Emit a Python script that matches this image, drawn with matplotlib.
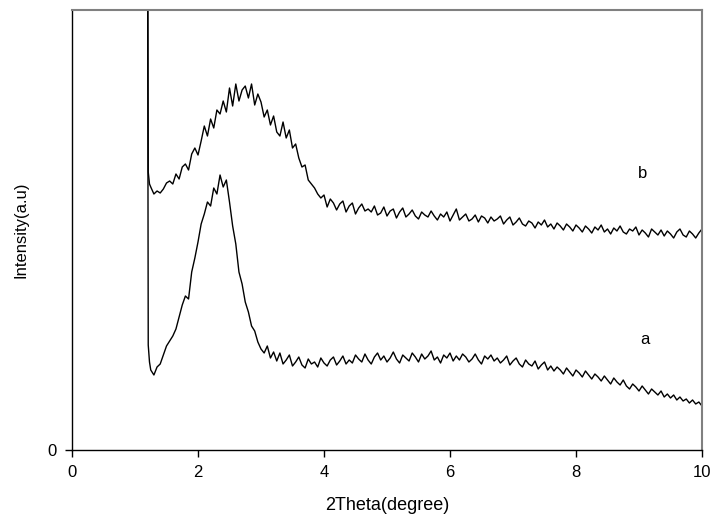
import matplotlib
matplotlib.use("Agg")
import matplotlib.pyplot as plt
import numpy as np

plt.rcParams['font.family'] = ['Liberation Sans', 'DejaVu Sans']

# 2theta grid of the scan (degree), 0.05 step from 1.25 to 10.00
theta_start = 1.25
theta_step = 0.05

# low-angle spike at the start of each scan
b_spike_x = [1.19, 1.21, 1.23]
b_spike_y = [900, 278, 266]
a_spike_x = [1.19, 1.21, 1.23]
a_spike_y = [900, 105, 88]

# curve b (upper)
b_vals = [
    263, 256, 259, 257, 261, 267, 269, 266, 276, 271,
    283, 286, 280, 296, 302, 295, 309, 324, 314, 331,
    322, 340, 336, 349, 338, 362, 344, 366, 349, 360,
    364, 352, 366, 345, 356, 348, 333, 340, 325, 334,
    318, 314, 328, 312, 320, 302, 306, 292, 283, 285,
    270, 266, 262, 256, 252, 255, 243, 251, 247, 240,
    246, 249, 238, 244, 247, 236, 242, 246, 239, 241,
    238, 244, 235, 237, 243, 234, 239, 241, 232, 238,
    242, 233, 236, 240, 234, 231, 238, 235, 233, 239,
    234, 230, 236, 233, 238, 229, 235, 241, 230, 233,
    236, 229, 231, 235, 228, 234, 232, 227, 233, 229,
    231, 234, 226, 230, 233, 225, 228, 232, 226, 224,
    229, 227, 222, 228, 225, 230, 223, 226, 221, 227,
    224, 220, 226, 223, 219, 225, 222, 218, 224, 221,
    217, 223, 220, 225, 218, 221, 216, 222, 219, 224,
    218, 216, 221, 219, 223, 215, 220, 217, 213, 221,
    218, 215, 220, 214, 219, 216, 212, 218, 221, 215,
    213, 219, 216, 212, 217, 221,
]

# curve a (lower)
a_vals = [
    80, 75, 83, 86, 95, 104, 109, 114, 121, 133,
    145, 154, 151, 178, 192, 208, 226, 236, 248, 244,
    262, 256, 275, 263, 270, 248, 224, 206, 178, 166,
    148, 138, 124, 119, 108, 101, 97, 104, 92, 98,
    89, 97, 86, 90, 95, 84, 88, 93, 85, 82,
    91, 86, 88, 83, 92, 87, 84, 90, 93, 85,
    89, 94, 86, 90, 87, 95, 91, 88, 96, 90,
    86, 93, 97, 90, 94, 88, 92, 98, 91, 87,
    95, 92, 89, 97, 93, 88, 96, 91, 94, 99,
    90, 93, 87, 95, 92, 97, 89, 94, 90, 96,
    93, 88, 91, 96, 90, 86, 94, 91, 95, 89,
    92, 87, 90, 94, 85, 89, 92, 86, 83, 90,
    86, 84, 89, 81, 85, 88, 80, 84, 79, 83,
    80, 76, 82, 78, 74, 80, 77, 73, 79, 75,
    71, 76, 73, 69, 74, 70, 66, 72, 68, 65,
    70, 64, 61, 66, 63, 59, 64, 60, 56, 61,
    58, 55, 59, 53, 56, 52, 55, 50, 53, 49,
    51, 47, 50, 46, 48, 44,
]

labels = ["a", "b"]
label_pos = [(9.1, 110), (9.05, 277)]

x_grid = theta_start + theta_step * np.arange(len(b_vals))
bx = np.concatenate([b_spike_x, x_grid])
by = np.concatenate([b_spike_y, b_vals])
ax_ = np.concatenate([a_spike_x, x_grid])
ay = np.concatenate([a_spike_y, a_vals])

fig = plt.figure(figsize=(7.15, 5.29), dpi=100)
ax = fig.add_axes([72 / 715, 1 - 450 / 529, 630 / 715, 440 / 529])

ax.plot(bx, by, color="black", lw=1.0)
ax.plot(ax_, ay, color="black", lw=1.0)

for lab, (lx, ly) in zip(labels, label_pos):
    ax.text(lx, ly, lab, fontsize=12, ha="center", va="center")

ax.set_xlim(0, 10)
ax.set_ylim(0, 440)
ax.set_xticks([0, 2, 4, 6, 8, 10])
ax.set_yticks([0])
ax.tick_params(direction="out", length=5, width=1, labelsize=12, pad=6)

for s in ["left", "bottom"]:
    ax.spines[s].set_color("black")
    ax.spines[s].set_linewidth(1.0)
for s in ["top", "right"]:
    ax.spines[s].set_color("#808080")
    ax.spines[s].set_linewidth(1.5)

ax.set_xlabel("2Theta(degree)", fontsize=13, labelpad=12)
ax.set_ylabel("Intensity(a.u)", fontsize=12, labelpad=14)

fig.savefig("out.png", dpi=100)
